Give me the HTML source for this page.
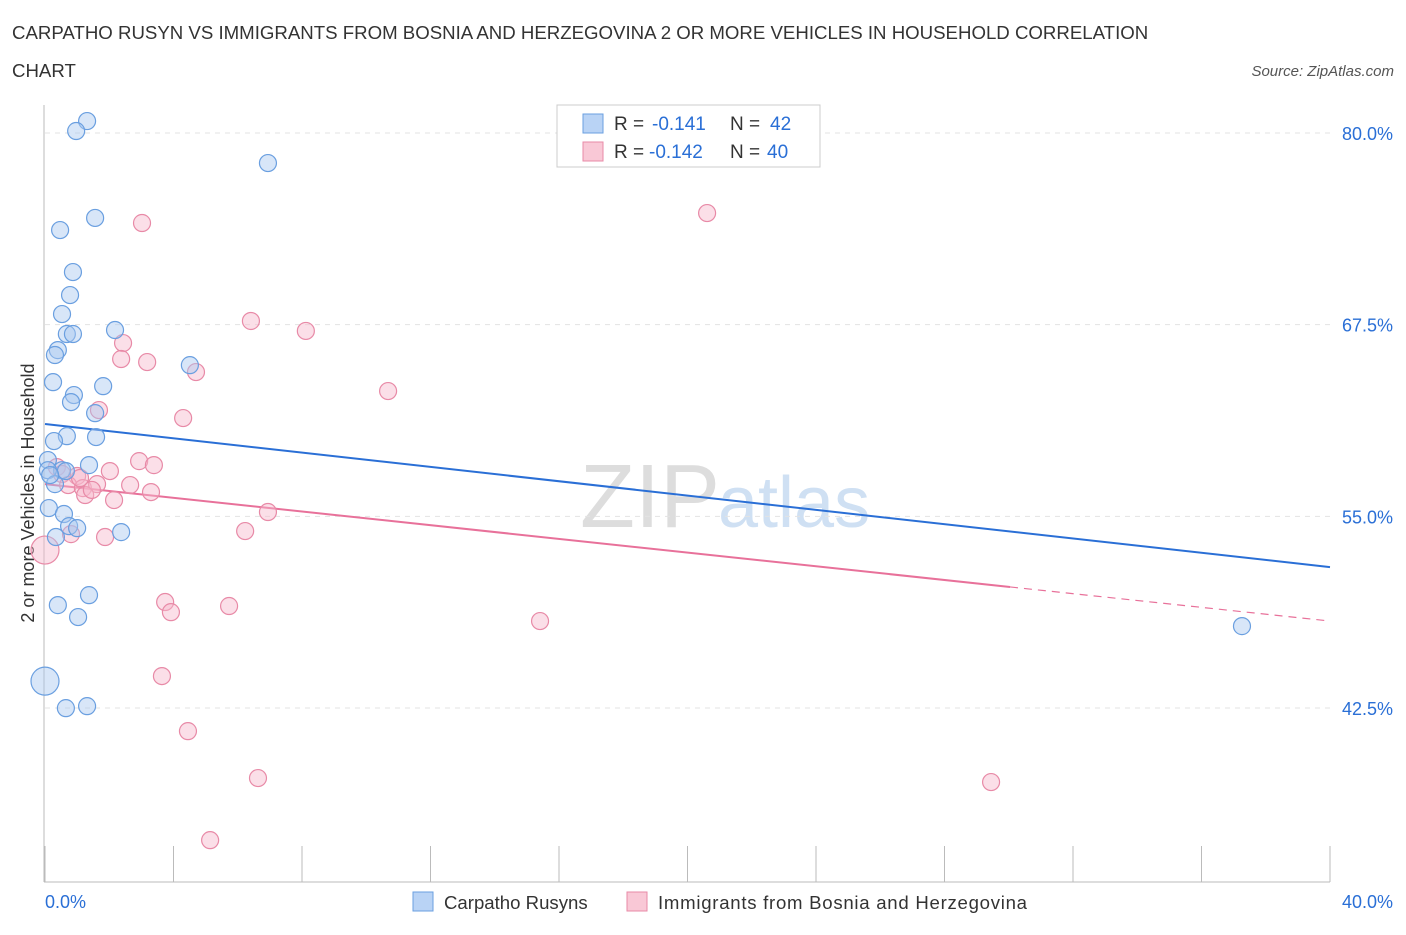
<!DOCTYPE html>
<html><head><meta charset="utf-8"><style>
body{margin:0;background:#fff;font-family:"Liberation Sans",sans-serif;}
svg text{font-family:"Liberation Sans",sans-serif;}
</style></head><body>
<svg id="c" width="1406" height="930">
<text x="12" y="39" font-size="18.65" fill="#333">CARPATHO RUSYN VS IMMIGRANTS FROM BOSNIA AND HERZEGOVINA 2 OR MORE VEHICLES IN HOUSEHOLD CORRELATION</text>
<text x="12" y="77" font-size="18.65" fill="#333">CHART</text>
<text x="1394" y="76" font-size="15" fill="#555" font-style="italic" text-anchor="end">Source: ZipAtlas.com</text>
<text x="720" y="527" font-size="90" fill="#ddd" text-anchor="end" font-family="Liberation Serif">ZIP</text>
<text x="718" y="527" font-size="72" fill="#cfe0f3">atlas</text>
<text transform="translate(34,493) rotate(-90)" font-size="18" fill="#333" text-anchor="middle">2 or more Vehicles in Household</text>
<g id="grid"></g><g id="axes"></g><g id="lines"></g><g id="pts"></g>
<g>
<rect x="557" y="105" width="263" height="62" fill="#fff" stroke="#ccc"/>
<rect x="583" y="114" width="20" height="19" fill="#b9d3f5" stroke="#6a9fe0"/>
<text x="614" y="130" font-size="19" fill="#333">R =</text>
<text x="652" y="130" font-size="19" fill="#2a6fd6">-0.141</text>
<text x="730" y="130" font-size="19" fill="#333">N =</text>
<text x="770" y="130" font-size="19" fill="#2a6fd6">42</text>
<rect x="583" y="142" width="20" height="19" fill="#f9c8d6" stroke="#e88aa7"/>
<text x="614" y="158" font-size="19" fill="#333">R =</text>
<text x="649" y="158" font-size="19" fill="#2a6fd6">-0.142</text>
<text x="730" y="158" font-size="19" fill="#333">N =</text>
<text x="767" y="158" font-size="19" fill="#2a6fd6">40</text>
</g>
<g>
<rect x="413" y="892" width="20" height="19" fill="#b9d3f5" stroke="#6a9fe0"/>
<text x="444" y="909" font-size="18.6" fill="#333">Carpatho Rusyns</text>
<rect x="627" y="892" width="20" height="19" fill="#f9c8d6" stroke="#e88aa7"/>
<text x="658" y="909" font-size="18.6" fill="#333" textLength="369">Immigrants from Bosnia and Herzegovina</text>
</g>
</svg>
<script>
const yTicks=[80,67.5,55,42.5];
const yTickLabels=["80.0%","67.5%","55.0%","42.5%"];
const xTickLabels=["0.0%","40.0%"];
const blueX=[1.31,0.97,6.94,1.56,0.47,0.87,0.78,0.53,0.68,0.87,2.18,0.40,0.31,4.51,0.25,1.81,0.90,0.81,1.56,0.68,1.59,0.28,0.09,1.37,0.53,0.09,0.65,0.31,0.12,0.59,0.75,1.00,2.37,0.34,1.37,0.40,1.03,37.26,0.0,0.65,1.31,0.16];
const blueY=[80.78,80.13,78.04,74.46,73.67,70.93,69.43,68.19,66.89,66.89,67.15,65.84,65.52,64.86,63.75,63.49,62.91,62.45,61.73,60.23,60.17,59.91,58.67,58.34,58.01,58.01,57.95,57.10,55.54,55.15,54.36,54.23,53.97,53.65,49.86,49.21,48.43,47.84,44.25,42.49,42.62,57.69];
const pinkX=[20.61,3.02,6.41,8.12,2.43,2.37,3.18,4.70,10.68,1.68,4.30,2.93,3.39,2.02,1.00,0.37,0.53,0.72,1.18,1.62,1.25,2.65,2.15,3.30,0.81,1.87,6.94,6.23,0.0,3.74,3.92,5.73,15.41,3.64,4.45,6.63,29.45,5.14,1.09,1.46];
const pinkY=[74.78,74.13,67.74,67.09,66.30,65.26,65.06,64.41,63.17,61.93,61.41,58.60,58.34,57.95,57.63,58.21,57.76,57.04,56.84,57.10,56.39,57.04,56.06,56.58,53.84,53.65,55.28,54.04,52.80,49.41,48.75,49.15,48.17,44.58,40.99,37.93,37.67,33.88,57.50,56.72];
const blueTrend=[61.02,51.69];
const pinkTrend=[57.10,48.17];
const pinkSolidEnd=30.04;
const NS="http://www.w3.org/2000/svg";
const X=v=>45+v/40*1285;
const Y=v=>133+(80-v)*15.333;
function mk(t,a,p){const e=document.createElementNS(NS,t);for(const k in a)e.setAttribute(k,a[k]);p.appendChild(e);return e;}
const grid=document.getElementById('grid'),axes=document.getElementById('axes'),lines=document.getElementById('lines'),pts=document.getElementById('pts');
yTicks.forEach((t,i)=>{
 const l=mk('line',{x1:45,x2:1330,y1:Y(t),y2:Y(t),stroke:'#e3e3e3','stroke-dasharray':'5,5'},grid);
 
 
 const tx=mk('text',{x:1393,y:Y(t)+7,'font-size':18,fill:'#2a6fd6','text-anchor':'end'},grid);
 tx.textContent=yTickLabels[i];
 
 
});
mk('line',{x1:44,x2:44,y1:105,y2:882,stroke:'#bbb'},axes);
mk('line',{x1:44,x2:1330,y1:882,y2:882,stroke:'#bbb'},axes);
for(let i=0;i<=10;i++){const t=mk('line',{x1:X(i*4),x2:X(i*4),y1:846,y2:882,stroke:'#bbb'},axes);
 
 }
[[0,'start',45],[1,'end',1393]].forEach(([i,a,x])=>{const t=mk('text',{x:x,y:908,'font-size':18,fill:'#2a6fd6','text-anchor':a},axes);t.textContent=xTickLabels[i];
 
 });
function dots(xs,ys,fill,stroke,name){xs.forEach((x,i)=>{const big=x===0;
 const c=mk('circle',{cx:X(x),cy:Y(ys[i]),r:big?14:8.5,fill:fill,'fill-opacity':0.45,stroke:stroke,'stroke-width':1.2},pts);
 
 });}
dots(pinkX,pinkY,'#f7b8cb','#e88aa7','pink-point');
dots(blueX,blueY,'#a9c8f0','#6a9fe0','blue-point');
const bl=mk('line',{x1:X(0),y1:Y(blueTrend[0]),x2:X(40),y2:Y(blueTrend[1]),stroke:'#2a6fd6','stroke-width':2},lines);


const pm=pinkTrend[0]+(pinkTrend[1]-pinkTrend[0])*pinkSolidEnd/40;
const pl=mk('line',{x1:X(0),y1:Y(pinkTrend[0]),x2:X(pinkSolidEnd),y2:Y(pm),stroke:'#e8719a','stroke-width':2},lines);


const pd=mk('line',{x1:X(pinkSolidEnd),y1:Y(pm),x2:X(40),y2:Y(pinkTrend[1]),stroke:'#e8719a','stroke-width':1.2,'stroke-dasharray':'8,6'},lines);


</script>
</body></html>
